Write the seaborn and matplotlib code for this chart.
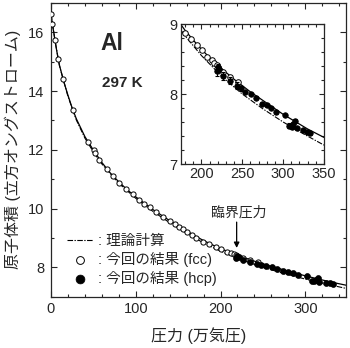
import matplotlib
matplotlib.use("Agg")
import matplotlib.pyplot as plt
import seaborn as sns
from matplotlib.ticker import MultipleLocator

# Fitted equation of state (solid curve): pressure [10^4 atm] vs atomic volume [A^3]
fit_p = [0, 2, 4, 6, 8, 10, 15, 20, 25, 30, 40, 50, 60, 70, 80, 90, 100, 110, 120,
         130, 140, 150, 160, 170, 180, 190, 200, 210, 220, 230, 240, 250, 260, 270,
         280, 290, 300, 310, 320, 330, 340, 350]
fit_v = [16.62, 16.22, 15.86, 15.50, 15.17, 14.88, 14.33, 13.86, 13.42, 13.05, 12.45,
         11.99, 11.57, 11.21, 10.91, 10.64, 10.40, 10.18, 9.97, 9.78, 9.59, 9.42, 9.24,
         9.07, 8.91, 8.77, 8.64, 8.52, 8.41, 8.31, 8.21, 8.12, 8.03, 7.95, 7.87, 7.79,
         7.71, 7.64, 7.57, 7.50, 7.44, 7.38]

# Theoretical calculation (dash-dot curve)
theory_p = [0, 5, 10, 20, 30, 40, 50, 60, 80, 100, 120, 140, 160, 180, 200, 225, 250,
            275, 300, 325, 350]
theory_v = [16.62, 15.68, 14.86, 13.82, 13.01, 12.40, 11.93, 11.52, 10.86, 10.35,
            9.91, 9.52, 9.16, 8.83, 8.55, 8.25, 8.00, 7.79, 7.60, 7.43, 7.27]

# Present results, fcc phase (open circles)
fcc_p = [0, 1.5, 5, 8, 14.5, 25.5, 43.7, 50.6, 52, 57.2, 66, 73.3, 80.4, 88.8, 96.8,
         103.5, 109.8, 116.5, 124.3, 132, 140, 146.7, 151, 156, 161, 166, 171, 179.5,
         186.9, 194.2, 200.3, 207.2, 212.6, 215.8, 218.7, 226.8, 235, 244.4]
fcc_v = [16.62, 16.28, 15.74, 15.10, 14.40, 13.34, 12.27, 11.98, 11.90, 11.67, 11.36,
         11.10, 10.88, 10.67, 10.48, 10.29, 10.17, 10.04, 9.87, 9.72, 9.58, 9.47, 9.39,
         9.30, 9.20, 9.10, 9.01, 8.87, 8.78, 8.70, 8.63, 8.53, 8.48, 8.44, 8.41, 8.32,
         8.24, 8.17]

# Present results, hcp phase (filled circles) with volume uncertainties
hcp_p = [218.7, 219.8, 222.0, 226.8, 235.0, 243.2, 248.0, 253.3, 260.3, 266.8, 273.8,
         279.9, 285.2, 291.3, 302.3, 307.6, 310.5, 312.5, 314.5, 316.6, 323.9, 328.9,
         333.0]
hcp_v = [8.33, 8.38, 8.36, 8.26, 8.19, 8.12, 8.08, 8.03, 8.00, 7.95, 7.86, 7.84, 7.80,
         7.74, 7.70, 7.55, 7.53, 7.57, 7.62, 7.51, 7.48, 7.46, 7.44]
hcp_err = [0.07, 0.05, 0.04, 0.06, 0.05, 0.05, 0.03, 0.02, 0.02, 0.02, 0.02, 0.02,
           0.02, 0.02, 0.02, 0.03, 0.03, 0.03, 0.03, 0.02, 0.02, 0.02, 0.02]

sns.set_style("ticks")
plt.rcParams['font.family'] = ['Liberation Sans', 'Noto Sans CJK JP']
plt.rcParams['axes.linewidth'] = 0.9
plt.rcParams['xtick.direction'] = 'in'
plt.rcParams['ytick.direction'] = 'in'

DASHDOT = (0, (5, 1.3, 1.2, 1.3))

fig = plt.figure(figsize=(3.5, 3.48), dpi=100)
ax = fig.add_axes([0.1457, 0.1474, 0.8429, 0.8440])
ins = fig.add_axes([0.5171, 0.5287, 0.4086, 0.4023])


def draw(a, msize, hsize):
    sns.lineplot(x=fit_p, y=fit_v, ax=a, color='black', lw=0.9, sort=False,
                 estimator=None, zorder=2)
    sns.lineplot(x=theory_p, y=theory_v, ax=a, color='black', lw=0.8, sort=False,
                 estimator=None, linestyle=DASHDOT, label=': 理論計算', zorder=2)
    sns.scatterplot(x=fcc_p, y=fcc_v, ax=a, marker='o', facecolor='white',
                    edgecolor='black', linewidth=0.7, s=msize, zorder=3,
                    label=': 今回の結果 (fcc)')
    a.errorbar(hcp_p, hcp_v, yerr=hcp_err, fmt='none', ecolor='black',
               elinewidth=0.8, capsize=1.2, capthick=0.8, zorder=4)
    sns.scatterplot(x=hcp_p, y=hcp_v, ax=a, marker='o', color='black',
                    edgecolor='black', linewidth=0.5, s=hsize, zorder=5,
                    label=': 今回の結果 (hcp)')


draw(ax, 14, 18)
draw(ins, 16, 16)

# main axes
ax.set_xlim(0, 348)
ax.set_ylim(7, 17)
ax.xaxis.set_major_locator(MultipleLocator(100))
ax.xaxis.set_minor_locator(MultipleLocator(20))
ax.yaxis.set_major_locator(MultipleLocator(2))
ax.yaxis.set_minor_locator(MultipleLocator(1))
ax.tick_params(which='both', top=True, right=True, labelsize=10.5, width=0.8)
ax.tick_params(which='major', length=4, pad=4)
ax.tick_params(which='minor', length=2.4)
ax.tick_params(axis='y', pad=5)
ax.set_xlabel('圧力 (万気圧)', fontsize=11.5, labelpad=8)
ax.set_ylabel('原子体積 (立方オングストローム)', fontsize=11.5, labelpad=5)

handles, labels = ax.get_legend_handles_labels()
ax.legend(handles, labels, loc='upper left', bbox_to_anchor=(0.054, 0.212),
          frameon=False, fontsize=10.5, handlelength=1.8, handletextpad=0.3,
          labelspacing=0.25, borderpad=0, borderaxespad=0, markerscale=1.5)

ax.text(0.169, 0.862, 'Al', transform=ax.transAxes, fontsize=16.5,
        fontweight='bold', ha='left', va='center')
ax.text(0.172, 0.7276, '297 K', transform=ax.transAxes, fontsize=11,
        fontweight='bold', ha='left', va='center')

ax.text(221.8, 9.86, '臨界圧力', fontsize=10, ha='center', va='center')
ax.annotate('', xy=(219, 8.66), xytext=(219, 9.54),
            arrowprops=dict(arrowstyle='-|>', color='black', lw=0.9,
                            mutation_scale=8, shrinkA=0, shrinkB=0))

# inset axes
ins.set_facecolor('white')
ins.set_xlim(175, 350)
ins.set_ylim(7, 9)
ins.xaxis.set_major_locator(MultipleLocator(50))
ins.xaxis.set_minor_locator(MultipleLocator(10))
ins.yaxis.set_major_locator(MultipleLocator(1))
ins.yaxis.set_minor_locator(MultipleLocator(0.2))
ins.tick_params(which='both', top=True, right=True, labelsize=10.5, width=0.8)
ins.tick_params(which='major', length=3.5, pad=2.5)
ins.tick_params(which='minor', length=2.2)
ins.set_xlabel('')
ins.set_ylabel('')
if ins.get_legend() is not None:
    ins.get_legend().remove()

fig.savefig('out.png', dpi=100)
